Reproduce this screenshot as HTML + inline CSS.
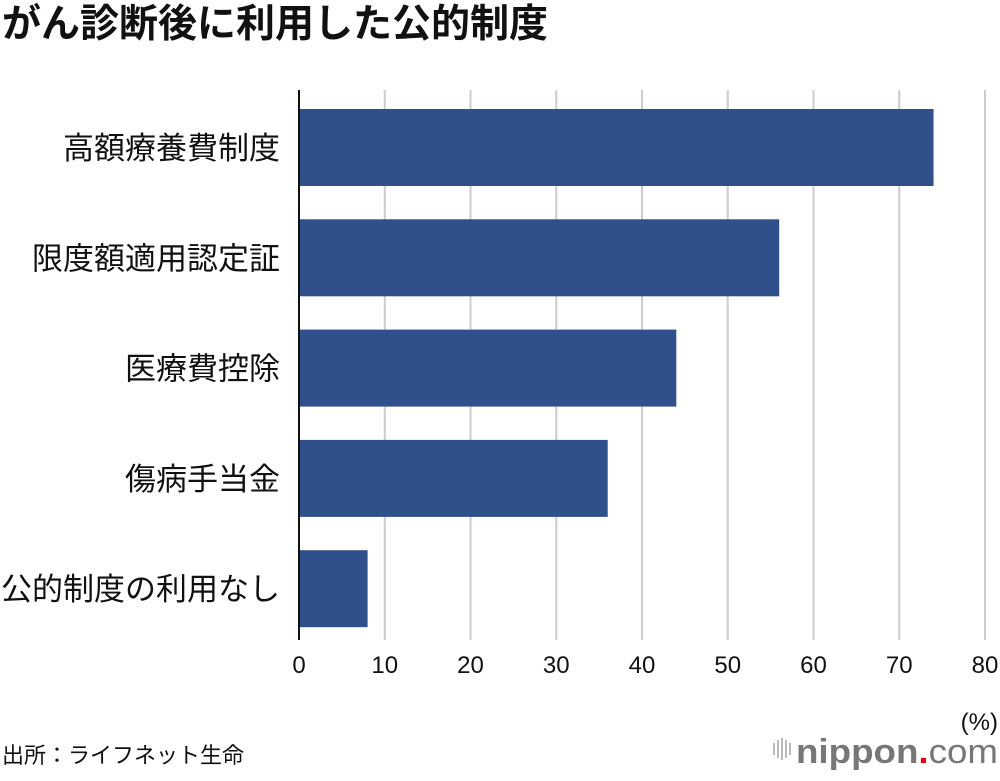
<!DOCTYPE html>
<html><head><meta charset="utf-8"><style>
body{margin:0;width:1000px;height:776px;background:#fff;overflow:hidden;font-family:"Liberation Sans","Noto Sans CJK JP",sans-serif;}
</style></head><body>
<svg id="c" width="1000" height="776" xmlns="http://www.w3.org/2000/svg" font-family="Liberation Sans, Noto Sans CJK JP, sans-serif">
<text x="2" y="37" font-size="39" font-weight="bold" fill="#111">がん診断後に利用した公的制度</text>
<g id="grid"></g><g id="bars"></g><g id="labels"></g><g id="ticks"></g>
<line x1="299" y1="90" x2="299" y2="640" stroke="#111" stroke-width="2"/>
<text x="998" y="730" font-size="24" text-anchor="end" fill="#111">(%)</text>
<text x="2" y="763" font-size="22" fill="#111">出所：ライフネット生命</text>
<g>
<g fill="#bbb"><rect x="773" y="743" width="2" height="12"/><rect x="777" y="740" width="2" height="18"/><rect x="781" y="738" width="2" height="22"/><rect x="785" y="740" width="2" height="18"/><rect x="789" y="743" width="2" height="12"/></g>
<text x="796" y="763" font-size="34" font-weight="bold" fill="#777" textLength="202" lengthAdjust="spacingAndGlyphs">nippon<tspan fill="#e60012">.</tspan><tspan font-weight="normal">com</tspan></text>
</g>
</svg>
<script>
const categories=["高額療養費制度","限度額適用認定証","医療費控除","傷病手当金","公的制度の利用なし"];
const values=[74,56,44,36,8];
const tickValues=[0,10,20,30,40,50,60,70,80];
const NS="http://www.w3.org/2000/svg";
const x=v=>299+v*(985-299)/80;
const y=i=>109+i*110.3;
function mk(t,a,p){const e=document.createElementNS(NS,t);for(const k in a)e.setAttribute(k,a[k]);document.getElementById(p).appendChild(e);return e;}
tickValues.forEach(v=>{
 if(v>0){const g=mk('line',{x1:x(v),x2:x(v),y1:90,y2:640,stroke:'#ccc','stroke-width':2},'grid');
 
 }
 const t=mk('text',{x:x(v),y:673,'font-size':24,'text-anchor':'middle',fill:'#111'},'ticks');t.textContent=v;
 
 
});
categories.forEach((c,i)=>{
 const r=mk('rect',{x:x(0),y:y(i),width:x(values[i])-x(0),height:77,fill:'#30508c'},'bars');
 
 
 const t=mk('text',{x:280,y:y(i)+50,'font-size':31,'text-anchor':'end',fill:'#111'},'labels');t.textContent=c;
 
 
});
</script>
</body></html>
